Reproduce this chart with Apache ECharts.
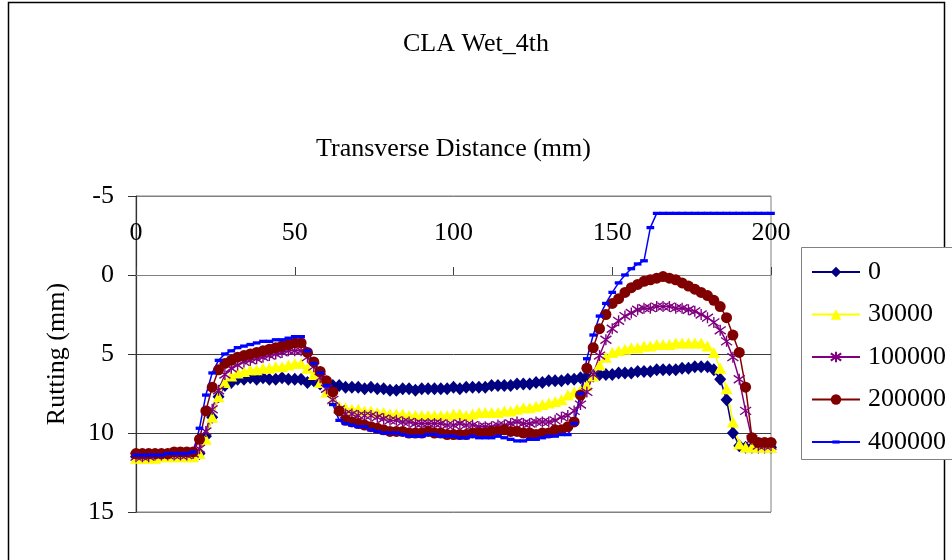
<!DOCTYPE html>
<html>
<head>
<meta charset="utf-8">
<title>CLA Wet_4th</title>
<script src="https://cdn.jsdelivr.net/npm/echarts@6/dist/echarts.min.js"></script>
<style>
  html, body { margin: 0; padding: 0; background: #ffffff; }
  #chart { width: 952px; height: 560px; }
</style>
</head>
<body>
<div id="chart"></div>
<script>
// Transverse profile positions (mm)
const distance = [
  0, 2, 4, 6, 8, 10, 12, 14, 16, 18,
  20, 22, 24, 26, 28, 30, 32, 34, 36, 38,
  40, 42, 44, 46, 48, 50, 52, 54, 56, 58,
  60, 62, 64, 66, 68, 70, 72, 74, 76, 78,
  80, 82, 84, 86, 88, 90, 92, 94, 96, 98,
  100, 102, 104, 106, 108, 110, 112, 114, 116, 118,
  120, 122, 124, 126, 128, 130, 132, 134, 136, 138,
  140, 142, 144, 146, 148, 150, 152, 154, 156, 158,
  160, 162, 164, 166, 168, 170, 172, 174, 176, 178,
  180, 182, 184, 186, 188, 190, 192, 194, 196, 198,
  200
];

// Rutting (mm) after each number of load passes
const passes0 = [
  11.5, 11.5, 11.5, 11.5, 11.4, 11.4, 11.4, 11.4, 11.4, 11.4,
  11.3, 10.2, 9.0, 7.7, 7.0, 6.8, 6.6, 6.6, 6.5, 6.6,
  6.5, 6.6, 6.6, 6.5, 6.6, 6.6, 6.6, 6.8, 6.7, 6.9,
  6.9, 7.0, 7.0, 7.1, 7.1, 7.1, 7.2, 7.1, 7.2, 7.2,
  7.3, 7.3, 7.2, 7.2, 7.3, 7.2, 7.2, 7.2, 7.2, 7.2,
  7.1, 7.2, 7.1, 7.1, 7.1, 7.1, 7.0, 7.0, 7.0, 7.0,
  6.9, 6.9, 6.9, 6.8, 6.8, 6.7, 6.7, 6.7, 6.6, 6.6,
  6.5, 6.5, 6.4, 6.3, 6.3, 6.3, 6.2, 6.2, 6.2, 6.1,
  6.1, 6.1, 6.0, 6.0, 6.0, 6.0, 5.9, 5.9, 5.8, 5.8,
  5.8, 6.0, 6.6, 7.9, 10.0, 10.8, 10.9, 10.9, 10.9, 10.9,
  10.9
];
const passes30000 = [
  11.6, 11.6, 11.6, 11.6, 11.5, 11.5, 11.5, 11.5, 11.5, 11.5,
  11.3, 10.4, 9.0, 7.7, 6.8, 6.4, 6.2, 6.1, 6.0, 6.0,
  5.9, 5.9, 5.8, 5.8, 5.7, 5.6, 5.6, 5.9, 6.3, 6.8,
  7.4, 7.9, 8.3, 8.4, 8.5, 8.5, 8.6, 8.6, 8.7, 8.7,
  8.8, 8.8, 8.8, 8.9, 8.9, 8.9, 8.9, 8.9, 8.9, 8.9,
  8.8, 8.8, 8.9, 8.8, 8.7, 8.7, 8.7, 8.7, 8.6, 8.6,
  8.5, 8.4, 8.4, 8.3, 8.2, 8.1, 8.0, 7.9, 7.6, 7.4,
  7.3, 7.0, 6.4, 5.7, 5.2, 4.9, 4.8, 4.7, 4.6, 4.6,
  4.5, 4.5, 4.4, 4.4, 4.4, 4.3, 4.3, 4.3, 4.3, 4.3,
  4.5, 4.9, 5.9, 7.2, 9.3, 10.7, 10.9, 10.9, 10.9, 10.9,
  10.9
];
const passes100000 = [
  11.5, 11.5, 11.5, 11.4, 11.4, 11.4, 11.4, 11.4, 11.4, 11.3,
  11.0, 9.9, 8.5, 7.3, 6.3, 5.9, 5.7, 5.5, 5.4, 5.3,
  5.2, 5.1, 5.0, 4.9, 4.8, 4.8, 4.8, 5.2, 5.8, 6.5,
  7.2, 7.9, 8.5, 8.8, 8.8, 8.9, 8.9, 8.9, 9.0, 9.1,
  9.2, 9.2, 9.3, 9.3, 9.4, 9.4, 9.4, 9.4, 9.4, 9.5,
  9.5, 9.4, 9.5, 9.5, 9.6, 9.6, 9.6, 9.5, 9.5, 9.4,
  9.3, 9.4, 9.4, 9.3, 9.3, 9.3, 9.2, 9.0, 8.9, 8.6,
  8.2, 7.4, 6.3, 5.1, 4.1, 3.4, 2.9, 2.6, 2.4, 2.2,
  2.1, 2.1, 2.0, 2.0, 2.0, 2.1, 2.1, 2.2, 2.3, 2.5,
  2.7, 3.0, 3.5, 4.2, 5.2, 6.6, 8.6, 10.4, 10.8, 10.8,
  10.8
];
const passes200000 = [
  11.3, 11.3, 11.3, 11.3, 11.3, 11.3, 11.2, 11.2, 11.2, 11.2,
  10.4, 8.6, 7.1, 6.0, 5.6, 5.4, 5.2, 5.1, 5.0, 4.9,
  4.8, 4.7, 4.6, 4.5, 4.4, 4.3, 4.3, 4.9, 5.5, 6.1,
  6.7, 7.4, 8.6, 9.2, 9.3, 9.4, 9.5, 9.6, 9.7, 9.8,
  9.9, 9.9, 9.9, 10.0, 10.0, 10.0, 9.9, 10.0, 10.0, 10.1,
  10.1, 10.1, 10.1, 10.0, 10.0, 10.0, 9.9, 9.9, 9.8, 9.9,
  9.9, 10.0, 10.0, 10.1, 10.0, 10.0, 9.8, 9.8, 9.6, 9.3,
  7.6, 5.9, 4.6, 3.4, 2.5, 1.8, 1.5, 1.1, 0.8, 0.6,
  0.4, 0.3, 0.2, 0.1, 0.2, 0.3, 0.5, 0.7, 0.9, 1.1,
  1.3, 1.6, 2.0, 2.7, 3.8, 4.9, 7.1, 10.3, 10.6, 10.6,
  10.6
];
const passes400000 = [
  11.4, 11.4, 11.4, 11.4, 11.4, 11.3, 11.3, 11.3, 11.3, 11.2,
  9.7, 7.6, 6.2, 5.4, 5.0, 4.8, 4.6, 4.5, 4.4, 4.3,
  4.2, 4.2, 4.1, 4.1, 4.0, 3.9, 3.9, 4.8, 5.6, 6.2,
  7.0, 8.2, 9.2, 9.4, 9.5, 9.6, 9.6, 9.8, 9.9, 10.0,
  10.0, 10.0, 10.1, 10.2, 10.2, 10.2, 10.1, 10.1, 10.2, 10.2,
  10.2, 10.3, 10.3, 10.2, 10.3, 10.3, 10.3, 10.2, 10.3, 10.4,
  10.5, 10.5, 10.4, 10.4, 10.3, 10.2, 10.2, 10.1, 10.1, 9.4,
  7.5, 5.3, 3.8, 2.6, 1.8, 1.1, 0.5, 0.0, -0.4, -0.7,
  -0.9, -3.0, -3.9, -3.9, -3.9, -3.9, -3.9, -3.9, -3.9, -3.9,
  -3.9, -3.9, -3.9, -3.9, -3.9, -3.9, -3.9, -3.9, -3.9, -3.9,
  -3.9
];

const seriesNames = ['0', '30000', '100000', '200000', '400000'];
const xTicks = { min: 0, max: 200, step: 50 };
const yTicks = { min: -5, max: 15, step: 5 };

const FONT = '"Liberation Serif", "Times New Roman", serif';

// Asterisk marker: a vertical stroke crossed by two diagonals
const ASTERISK = 'path://M5,0L5,10M0.8,1.5L9.2,8.5M9.2,1.5L0.8,8.5';
// Short horizontal dash centred in a 10x10 box (the two moves pin the box)
const DASH = 'path://M0,0M10,10M1.5,3.5H8.5V6.5H1.5Z';

const pair = (vals) => distance.map((d, i) => [d, vals[i]]);

const styles = [
  { color: '#000080', symbol: 'diamond', size: [12, 13] },
  { color: '#FFFF00', symbol: 'triangle', size: [12, 11] },
  { color: '#800080', symbol: ASTERISK, size: 11, stroke: true },
  { color: '#800000', symbol: 'circle', size: 11 },
  { color: '#0000FF', symbol: DASH, size: 11 }
];
const valueSets = [passes0, passes30000, passes100000, passes200000, passes400000];

const series = seriesNames.map((name, k) => {
  const st = styles[k];
  return {
    name: name,
    type: 'line',
    data: pair(valueSets[k]),
    symbol: st.symbol,
    symbolSize: st.size,
    showAllSymbol: true,
    lineStyle: { color: st.color, width: 1.5 },
    itemStyle: st.stroke
      ? { color: st.color, borderColor: st.color, borderWidth: 1.4 }
      : { color: st.color, borderWidth: 0 },
    emphasis: { disabled: true }
  };
});

const chart = echarts.init(document.getElementById('chart'), null, { renderer: 'canvas' });
chart.setOption({
  animation: false,
  backgroundColor: '#ffffff',
  title: {
    text: 'CLA Wet_4th',
    left: 'center',
    top: 26,
    textStyle: { fontFamily: FONT, fontSize: 26, fontWeight: 'normal', color: '#000' }
  },
  grid: {
    left: 136, right: 181, top: 196, bottom: 48,
    show: true, borderColor: '#808080', borderWidth: 1,
    backgroundColor: 'transparent'
  },
  xAxis: {
    type: 'value',
    position: 'top',
    min: xTicks.min, max: xTicks.max, interval: xTicks.step,
    name: 'Transverse Distance (mm)',
    nameLocation: 'middle',
    nameGap: 34,
    nameTextStyle: { fontFamily: FONT, fontSize: 26, color: '#000' },
    axisLine: { onZero: true, lineStyle: { color: '#808080', width: 1 } },
    axisTick: { show: true, inside: false, length: 8, lineStyle: { color: '#404040' } },
    axisLabel: { fontFamily: FONT, fontSize: 26, color: '#000', margin: -50 },
    splitLine: { show: false }
  },
  yAxis: {
    type: 'value',
    inverse: true,
    min: yTicks.min, max: yTicks.max, interval: yTicks.step,
    name: 'Rutting (mm)',
    nameLocation: 'middle',
    nameGap: 66,
    nameTextStyle: { fontFamily: FONT, fontSize: 26, color: '#000' },
    axisLine: { show: true, onZero: false, lineStyle: { color: '#333333', width: 1.2 } },
    axisTick: { show: true, inside: false, length: 8, lineStyle: { color: '#333333' } },
    axisLabel: { fontFamily: FONT, fontSize: 26, color: '#000', margin: 22 },
    splitLine: {
      show: true,
      lineStyle: { color: ['#808080', '#808080', '#3c3c3c', '#3c3c3c', '#808080'], width: 1 }
    }
  },
  legend: {
    orient: 'vertical',
    left: 801,
    top: 247,
    padding: [12, 10, 6, 10],
    itemGap: 16.5,
    itemWidth: 48,
    itemHeight: 13,
    borderWidth: 0,
    textStyle: { fontFamily: FONT, fontSize: 26, color: '#000', padding: [0, 0, 0, 3] },
    data: seriesNames
  },
  graphic: [
    {
      // chart area frame
      type: 'rect',
      silent: true,
      z: -10,
      shape: { x: 8.5, y: 2.5, width: 936, height: 600 },
      style: { fill: 'none', stroke: '#000000', lineWidth: 1.5 }
    },
    {
      // legend frame, running past the right edge of the chart area
      type: 'rect',
      silent: true,
      z: 1,
      shape: { x: 801.5, y: 247.5, width: 180, height: 212 },
      style: { fill: '#ffffff', stroke: '#808080', lineWidth: 1 }
    }
  ],
  series: series
});
</script>
</body>
</html>
